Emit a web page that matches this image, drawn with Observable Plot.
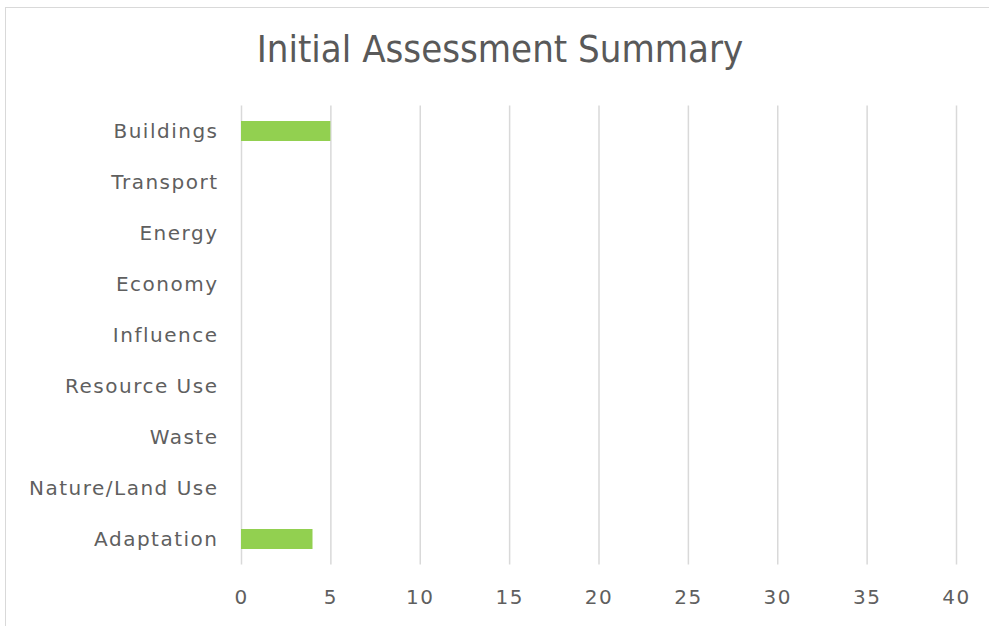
<!DOCTYPE html>
<html><head><meta charset="utf-8">
<script src="https://cdn.jsdelivr.net/npm/d3@7"></script>
<script src="https://cdn.jsdelivr.net/npm/@observablehq/plot@0.6"></script>
<style>
body{margin:0;background:#fff;width:989px;height:626px;overflow:hidden;position:relative;}
#frame{position:absolute;left:5px;top:7px;width:1100px;height:800px;border:1.5px solid #d9d9d9;box-sizing:border-box;}
#title{position:absolute;left:0;top:27px;width:1000px;text-align:center;font-family:"DejaVu Sans Condensed","DejaVu Sans",sans-serif;font-weight:200;font-size:38px;color:#595959;}
#chart{position:absolute;left:0;top:100px;}
#chart svg text{letter-spacing:1.5px;}
</style></head>
<body>
<div id="frame"></div>
<div id="title">Initial Assessment Summary</div>
<div id="chart"></div>
<script>
const categories = ["Buildings","Transport","Energy","Economy","Influence","Resource Use","Waste","Nature/Land Use","Adaptation"];
const values = [5,0,0,0,0,0,0,0,4];
const xTicks = [0,5,10,15,20,25,30,35,40];
const data = categories.map((c,i)=>({category:c, value:values[i]}));
const chart = Plot.plot({
  width: 989, height: 526,
  marginLeft: 241, marginRight: 33, marginTop: 5.5, marginBottom: 61.5,
  style: {fontFamily: "'DejaVu Sans', sans-serif", fontSize: "20px", color: "#5f5f5f", background: "transparent"},
  x: {domain: [0,40], ticks: xTicks, tickSize: 0, tickPadding: 25, label: null},
  y: {domain: categories, tickSize: 0, tickPadding: 23, label: null, paddingInner: 0.6, paddingOuter: 0.3},
  marks: [
    Plot.gridX(xTicks, {stroke: "#d9d9d9", strokeOpacity: 1, strokeWidth: 1.5}),
    Plot.barX(data, {x: "value", y: "category", fill: "#92D050"})
  ]
});
document.getElementById("chart").appendChild(chart);
</script>
</body></html>
